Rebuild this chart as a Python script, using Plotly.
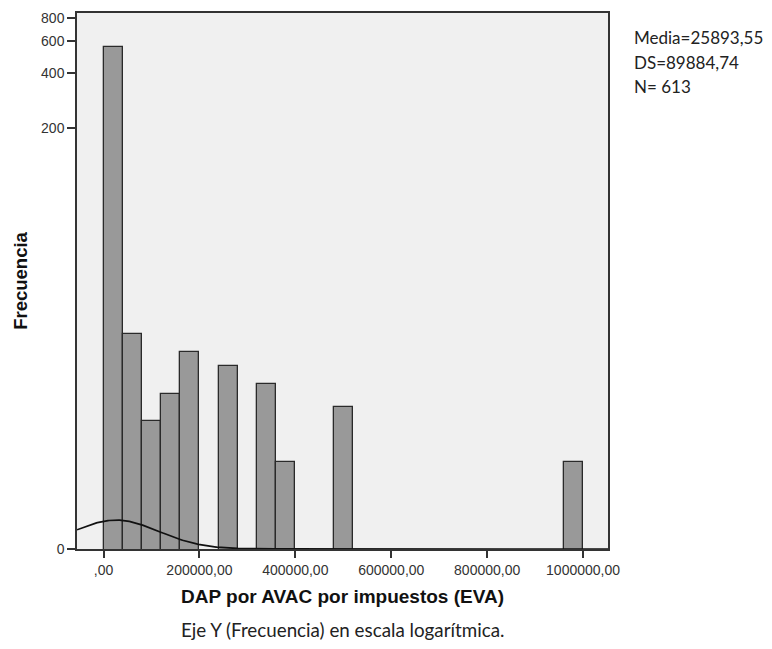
import numpy as np
import plotly.graph_objects as go

# ---- data ----
bin_starts = [0, 40000, 80000, 120000, 160000, 240000, 320000, 360000, 480000, 960000]
counts = [553, 15, 5, 7, 12, 10, 8, 3, 6, 3]
bin_width = 40000

media = 25893.55
ds = 89884.74
n_total = 613

x_tick_vals = [0, 200000, 400000, 600000, 800000, 1000000]
x_tick_text = [",00", "200000,00", "400000,00", "600000,00", "800000,00", "1000000,00"]
y_tick_vals = [1, 200, 400, 600, 800]
y_tick_text = ["0", "200", "400", "600", "800"]

stats_lines = ["Media=25893,55", "DS=89884,74", "N= 613"]
x_title = "DAP por AVAC por impuestos (EVA)"
y_title = "Frecuencia"
note = "Eje Y (Frecuencia) en escala logarítmica."

# normal curve (as drawn by SPSS on the log axis; peak height in decades)
curve_peak_log = 0.158
x_range = [-55400, 1052000]
xc = np.linspace(x_range[0], x_range[1], 600)
yc = 10 ** (curve_peak_log * np.exp(-0.5 * ((xc - media) / ds) ** 2))

centers = [b + bin_width / 2 for b in bin_starts]

fig = go.Figure()
fig.add_trace(go.Bar(
    x=centers, y=counts, width=[bin_width] * len(centers),
    marker=dict(color="#999999", line=dict(color="#2a2a2a", width=1.3)),
    hoverinfo="x+y", showlegend=False,
))
fig.add_trace(go.Scatter(
    x=xc, y=yc, mode="lines", line=dict(color="#111111", width=1.7),
    showlegend=False, hoverinfo="skip",
))

W, H = 772, 649
ml, mr, mt, mb = 77, 164, 10, 100

fig.update_layout(
    width=W, height=H,
    margin=dict(l=ml, r=mr, t=mt, b=mb),
    paper_bgcolor="white", plot_bgcolor="#F0F0F0",
    font=dict(family="Liberation Sans, Arial, sans-serif", color="#222222"),
    bargap=0,
)
fig.update_xaxes(
    range=x_range, tickmode="array", tickvals=x_tick_vals, ticktext=x_tick_text,
    ticks="outside", ticklen=7, tickwidth=1.5, tickcolor="#333333",
    showline=True, linecolor="#333333", linewidth=1.5, mirror=True,
    showgrid=False, zeroline=False,
    tickfont=dict(size=14, color="#333333"),
    title=dict(text="<b>" + x_title + "</b>", font=dict(size=19, color="#111111"), standoff=13),
)
fig.update_yaxes(
    type="log", range=[0, np.log10(850)],
    tickmode="array", tickvals=y_tick_vals, ticktext=y_tick_text,
    ticks="outside", ticklen=8, tickwidth=1.5, tickcolor="#333333",
    showline=True, linecolor="#333333", linewidth=1.5, mirror=True,
    showgrid=False, zeroline=False,
    tickfont=dict(size=14, color="#333333"),
    title=dict(text="<b>" + y_title + "</b>", font=dict(size=18.5, color="#111111"), standoff=9),
)

ph = H - mt - mb
def py(pix):
    return 1 - (pix - mt) / ph

for txt, ypix in zip(stats_lines, [35, 60, 84]):
    fig.add_annotation(
        text=txt, xref="paper", yref="paper",
        x=(632 - ml) / (W - ml - mr), y=py(ypix),
        xanchor="left", yanchor="middle", showarrow=False,
        font=dict(family="Lato, Carlito, sans-serif", size=17, color="#222222"),
    )

fig.add_annotation(
    text=note, xref="paper", yref="paper",
    x=0.5, y=py(630), xanchor="center", yanchor="middle", showarrow=False,
    font=dict(family="Lato, Carlito, sans-serif", size=18.8, color="#222222"),
)

fig.write_html("out.html")
